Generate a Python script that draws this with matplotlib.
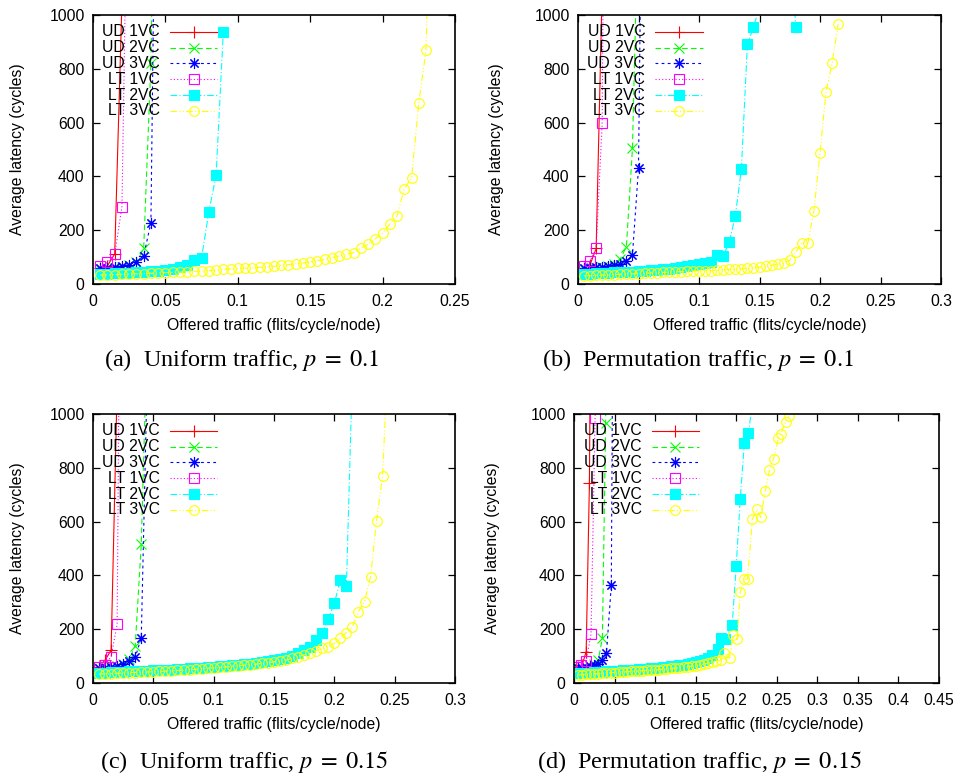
import matplotlib
matplotlib.use('Agg')
import matplotlib.pyplot as plt

plt.rcParams['font.family'] = 'Liberation Sans'
plt.rcParams['mathtext.fontset'] = 'stix'

labels = ['UD 1VC', 'UD 2VC', 'UD 3VC', 'LT 1VC', 'LT 2VC', 'LT 3VC']

# offered traffic sampling grid (flits/cycle/node)
x_grid = [0.005, 0.010, 0.015, 0.020, 0.025, 0.030, 0.035, 0.040, 0.045, 0.050,
          0.055, 0.060, 0.065, 0.070, 0.075, 0.080, 0.085, 0.090, 0.095, 0.100,
          0.105, 0.110, 0.115, 0.120, 0.125, 0.130, 0.135, 0.140, 0.145, 0.150,
          0.155, 0.160, 0.165, 0.170, 0.175, 0.180, 0.185, 0.190, 0.195, 0.200,
          0.205, 0.210, 0.215, 0.220, 0.225, 0.230, 0.235, 0.240, 0.245, 0.250]

# (a) uniform, p = 0.1
a_ud1 = [58, 68, 112, 1050]
a_ud2 = [57, 59, 61, 64, 69, 80, 133, 820, 2500]
a_ud3 = [58, 60, 62, 66, 72, 82, 105, 228, 2500]
a_lt1 = [66, 80, 110, 288, 2000]
a_lt2 = [38, 39, 40, 41, 42, 43, 45, 47, 49, 52, 56, 62, 70, 88, 98, 268, 404, 937]
a_lt3 = [33, 34, 35, 36, 37, 38, 39, 40, 41, 42, 43, 44, 45, 47, 48, 50, 52, 54, 56, 58,
         59, 60, 62, 64, 66, 69, 72, 75, 78, 82, 87, 92, 98, 104, 111, 117, 133, 148, 168, 188,
         223, 253, 355, 393, 674, 870, 2200]

# (b) permutation, p = 0.1
b_ud1 = [60, 72, 132, 1100]
b_ud2 = [55, 57, 60, 62, 66, 75, 93, 139, 504, 1450]
b_ud3 = [58, 60, 62, 64, 66, 70, 75, 85, 108, 430, 2500]
b_lt1 = [68, 85, 133, 600, 4000]
b_lt2 = [38, 39, 40, 41, 42, 43, 44, 45, 46, 48, 49, 51, 53, 55, 57, 60, 63, 66, 70, 73,
         77, 81, 108, 104, 155, 253, 426, 892, 954, 1030, 1300, 1300, 1300, 1300, 1300, 954]
b_lt3 = [30, 31, 32, 33, 34, 35, 36, 37, 38, 39, 40, 41, 42, 43, 44, 45, 46, 47, 48, 49,
         49, 50, 51, 52, 54, 55, 57, 58, 60, 63, 66, 70, 74, 78, 89, 118, 154, 152, 273, 488,
         715, 820, 966]

# (c) uniform, p = 0.15
c_ud1 = [60, 85, 122, 1100]
c_ud2 = [55, 58, 60, 64, 70, 88, 139, 515, 1320]
c_ud3 = [55, 57, 60, 64, 70, 80, 95, 168, 1160]
c_lt1 = [60, 68, 98, 218, 3200]
c_lt2 = [38, 39, 40, 41, 42, 43, 44, 45, 46, 47, 48, 49, 50, 51, 52, 54, 55, 57, 58, 60,
         62, 64, 66, 68, 70, 72, 75, 78, 81, 85, 88, 92, 100, 110, 123, 135, 160, 185, 238, 296,
         383, 361, 1160]
c_lt3 = [33, 34, 35, 36, 37, 38, 39, 40, 41, 42, 43, 44, 45, 47, 48, 50, 51, 53, 55, 56,
         58, 60, 62, 64, 66, 68, 70, 73, 76, 79, 82, 85, 92, 98, 104, 110, 120, 129, 135, 147,
         166, 187, 209, 265, 302, 395, 603, 770, 1270]

# (d) permutation, p = 0.15 (irregular points near saturation)
d_ud1_x = [0.005, 0.010, 0.015, 0.019, 0.024]
d_ud1 = [58, 66, 117, 742, 3000]
d_ud2_x = [0.005, 0.010, 0.015, 0.020, 0.025, 0.030, 0.035, 0.039, 0.044]
d_ud2 = [55, 57, 60, 64, 72, 85, 168, 965, 3000]
d_ud3_x = [0.005, 0.010, 0.015, 0.020, 0.025, 0.030, 0.035, 0.040, 0.046, 0.051]
d_ud3 = [55, 57, 60, 63, 67, 72, 85, 110, 364, 3000]
d_lt1_x = [0.004, 0.009, 0.015, 0.021, 0.026, 0.031]
d_lt1 = [58, 68, 82, 181, 986, 3000]
d_lt2_x = x_grid[:34] + [0.177, 0.181, 0.186, 0.195, 0.200, 0.205, 0.210, 0.215, 0.220]
d_lt2 = [36, 37, 38, 39, 40, 41, 42, 43, 44, 45, 46, 47, 48, 49, 50, 51, 52, 53, 54, 55,
         57, 58, 60, 62, 64, 66, 68, 71, 74, 77, 81, 86, 92, 105,
         125, 166, 162, 216, 436, 684, 891, 928, 1040]
d_lt3_x = x_grid[:35] + [0.181, 0.185, 0.192, 0.196, 0.201, 0.205, 0.210, 0.214, 0.220,
                         0.226, 0.230, 0.236, 0.241, 0.246, 0.252, 0.255, 0.261, 0.265]
d_lt3 = [30, 31, 32, 33, 34, 35, 36, 37, 38, 39, 40, 41, 42, 43, 44, 45, 46, 47, 48, 49,
         50, 51, 52, 54, 55, 57, 59, 61, 63, 65, 68, 71, 74, 78, 82,
         85, 110, 92, 178, 162, 339, 385, 387, 610, 646, 616, 715, 792, 833, 910, 926, 972, 993]

captions = [r'(a)  Uniform traffic, $p\;=\;0.1$', r'(b)  Permutation traffic, $p\;=\;0.1$',
            r'(c)  Uniform traffic, $p\;=\;0.15$', r'(d)  Permutation traffic, $p\;=\;0.15$']
xmax = [0.25, 0.3, 0.3, 0.45]

styles = [
    dict(color='#ff0000', ls='-', marker='+', ms=8, mfc='none'),
    dict(color='#00ff00', ls=(0, (5, 3)), marker='x', ms=6.5, mfc='none'),
    dict(color='#0000ff', ls=(0, (2.5, 3)), marker=(8, 2, 0), ms=8, mfc='none'),
    dict(color='#ff00ff', ls=(0, (1, 2)), marker='s', ms=7, mfc='none'),
    dict(color='#00ffff', ls=(0, (6, 2, 1, 2)), marker='s', ms=6.5, mfc='#00ffff'),
    dict(color='#ffff00', ls=(0, (6, 2, 1, 2, 1, 2)), marker='o', ms=7, mfc='none'),
]


def g(y):
    return x_grid[:len(y)]


panel_data = [
    [(g(a_ud1), a_ud1), (g(a_ud2), a_ud2), (g(a_ud3), a_ud3),
     (g(a_lt1), a_lt1), (g(a_lt2), a_lt2), (g(a_lt3), a_lt3)],
    [(g(b_ud1), b_ud1), (g(b_ud2), b_ud2), (g(b_ud3), b_ud3),
     (g(b_lt1), b_lt1), (g(b_lt2), b_lt2), (g(b_lt3), b_lt3)],
    [(g(c_ud1), c_ud1), (g(c_ud2), c_ud2), (g(c_ud3), c_ud3),
     (g(c_lt1), c_lt1), (g(c_lt2), c_lt2), (g(c_lt3), c_lt3)],
    [(d_ud1_x, d_ud1), (d_ud2_x, d_ud2), (d_ud3_x, d_ud3),
     (d_lt1_x, d_lt1), (d_lt2_x, d_lt2), (d_lt3_x, d_lt3)],
]

W, H = 960, 779
fig = plt.figure(figsize=(W / 100, H / 100), dpi=100)

# pixel boxes: left, right, top, bottom
boxes = [(93, 455, 15, 284), (578, 941, 15, 284), (93, 455, 414, 683), (574, 939, 414, 683)]
ylab_x = [18, 497, 18, 493]
cap_x = [242, 698, 244, 699]
cap_y = [360, 360, 762, 762]

fs = 11.3
for i in range(4):
    l, r, t, b = boxes[i]
    ax = fig.add_axes([l / W, 1 - b / H, (r - l) / W, (b - t) / H])
    for (x, y), st in zip(panel_data[i], styles):
        ax.plot(x, y, lw=0.8, mew=0.8, **st)
    ax.set_xlim(0, xmax[i])
    ax.set_ylim(0, 1000)
    step = 0.05
    ticks = [k * step for k in range(int(round(xmax[i] / step)) + 1)]
    ax.set_xticks(ticks)
    ax.set_xticklabels(['%g' % round(v, 2) for v in ticks])
    ax.set_yticks([0, 200, 400, 600, 800, 1000])
    ax.tick_params(direction='in', top=True, right=True, length=5, width=0.9,
                   labelsize=fs)
    ax.tick_params(axis='x', pad=7)
    ax.tick_params(axis='y', pad=6)
    for sp in ax.spines.values():
        sp.set_linewidth(1.2)

    # gnuplot-style key: right-aligned text, sample line with marker
    for k, (lab, st) in enumerate(zip(labels, styles)):
        yk = 1 - 0.063 - k * 0.0586
        ax.text(0.185, yk, lab, transform=ax.transAxes, ha='right', va='center',
                fontsize=fs)
        ax.plot([0.213, 0.343], [yk, yk], transform=ax.transAxes, color=st['color'],
                ls=st['ls'], lw=0.8, clip_on=False)
        ax.plot([0.278], [yk], transform=ax.transAxes, color=st['color'], ls='none',
                marker=st['marker'], ms=st['ms'], mfc=st['mfc'], mew=0.8, clip_on=False)

    fig.text(((l + r) / 2) / W, 1 - (b + 41) / H, 'Offered traffic (flits/cycle/node)',
             ha='center', va='center', fontsize=fs)
    fig.text(ylab_x[i] / W, 1 - ((t + b) / 2) / H, 'Average latency (cycles)',
             rotation=90, ha='center', va='center', fontsize=fs)
    fig.text(cap_x[i] / W, 1 - cap_y[i] / H, captions[i], ha='center', va='center',
             fontsize=17.5, family='Liberation Serif')

fig.savefig('out.png', dpi=100)
